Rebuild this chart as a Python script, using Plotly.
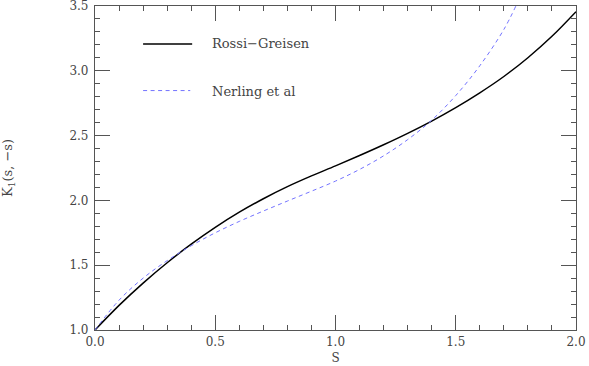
import plotly.graph_objects as go

# s values (grid) and read-off curve values
s_rg = [0.0, 0.1, 0.2, 0.3, 0.4, 0.5, 0.6, 0.7, 0.8, 0.9, 1.0,
        1.1, 1.2, 1.3, 1.4, 1.5, 1.6, 1.7, 1.8, 1.9, 2.0]
k_rg = [1.0, 1.19, 1.362, 1.519, 1.662, 1.792, 1.909, 2.013, 2.106, 2.189, 2.266,
        2.346, 2.429, 2.517, 2.612, 2.716, 2.83, 2.956, 3.101, 3.266, 3.456]

s_ne = [0.0, 0.1, 0.2, 0.3, 0.4, 0.5, 0.6, 0.7, 0.8, 0.9, 1.0,
        1.1, 1.2, 1.3, 1.4, 1.5, 1.6, 1.7, 1.75]
k_ne = [1.0, 1.23, 1.40, 1.535, 1.65, 1.75, 1.838, 1.918, 1.995, 2.071, 2.149,
        2.239, 2.344, 2.469, 2.619, 2.809, 3.039, 3.319, 3.5]

names = ["Rossi\u2212Greisen", "Nerling et al"]

GRAY = "#555555"
FONT = "DejaVu Serif"

fig = go.Figure()
fig.add_trace(go.Scatter(x=s_rg, y=k_rg, mode="lines", name=names[0],
                         line=dict(color="black", width=1.5, shape="spline"),
                         showlegend=False))
fig.add_trace(go.Scatter(x=s_ne, y=k_ne, mode="lines", name=names[1],
                         line=dict(color="#7373ff", width=1, dash="4px,3.5px",
                                   shape="spline"),
                         showlegend=False))

# hand-made legend, like the original
fig.add_shape(type="line", xref="paper", yref="paper",
              x0=0.1, x1=0.202, y0=0.883, y1=0.883,
              line=dict(color="black", width=1.5))
fig.add_shape(type="line", xref="paper", yref="paper",
              x0=0.1, x1=0.198, y0=0.739, y1=0.739,
              line=dict(color="#7373ff", width=1, dash="4px,3.5px"))
fig.add_annotation(text=names[0], xref="paper", yref="paper",
                   x=0.239, y=0.883, xanchor="left", yanchor="middle",
                   showarrow=False, font=dict(family=FONT, size=13, color="#444"))
fig.add_annotation(text=names[1], xref="paper", yref="paper",
                   x=0.239, y=0.736, xanchor="left", yanchor="middle",
                   showarrow=False, font=dict(family=FONT, size=13, color="#444"))

axis_common = dict(
    showgrid=False, zeroline=False, automargin=False,
    showline=True, linecolor=GRAY, linewidth=1.2, mirror="ticks",
    ticks="inside", ticklen=15, tickcolor=GRAY, tickwidth=1,
    tickfont=dict(family=FONT, size=12, color="#444"),
    tickformat=".1f", ticklabeloverflow="allow",
)

fig.update_xaxes(range=[0, 2], dtick=0.5,
                 minor=dict(dtick=0.1, ticks="inside", ticklen=5, tickcolor=GRAY),
                 title=dict(text="S", font=dict(family=FONT, size=12, color="#444"),
                            standoff=6),
                 **axis_common)
fig.update_yaxes(range=[1, 3.5], dtick=0.5, ticklabelstandoff=3,
                 minor=dict(dtick=0.1, ticks="inside", ticklen=5, tickcolor=GRAY),
                 title=dict(text="K<sub>1</sub>(s, \u2212s)",
                            font=dict(family=FONT, size=13, color="#444"),
                            standoff=53),
                 **axis_common)

fig.update_layout(
    width=589, height=366,
    margin=dict(l=95, r=13, t=6, b=36),
    plot_bgcolor="white", paper_bgcolor="white",
)

# page has a default body margin; drop it so the figure sits at the corner
fig.write_html("out.html", config={"displayModeBar": False},
               post_script="document.body.style.margin='0';"
                           "document.body.style.overflow='hidden';")
